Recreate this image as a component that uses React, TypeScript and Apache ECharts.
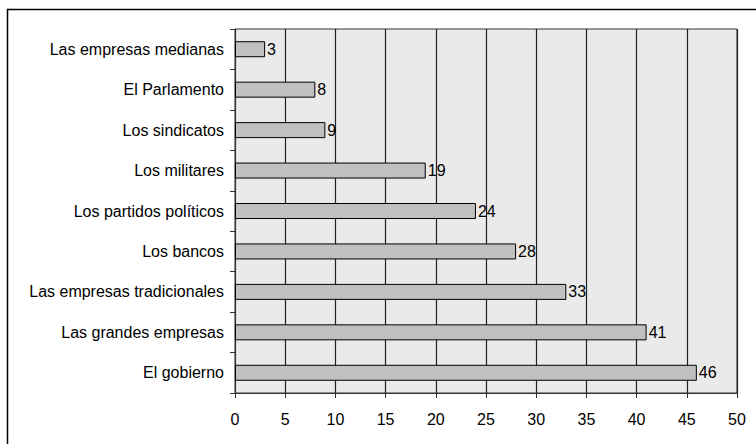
import React, { useEffect, useRef } from "react";
import * as echarts from "echarts";

const categories = [
  "Las empresas medianas",
  "El Parlamento",
  "Los sindicatos",
  "Los militares",
  "Los partidos políticos",
  "Los bancos",
  "Las empresas tradicionales",
  "Las grandes empresas",
  "El gobierno",
];
const values = [3, 8, 9, 19, 24, 28, 33, 41, 46];

const FONT = "'Liberation Sans', Arial, sans-serif";

export default function App() {
  const ref = useRef<HTMLDivElement>(null);
  useEffect(() => {
    const chart = echarts.init(ref.current!, null, { renderer: "svg" });
    chart.setOption({
      animation: false,
      backgroundColor: "#ffffff",
      textStyle: { fontFamily: FONT },
      graphic: [
        {
          type: "rect",
          shape: { x: 7.5, y: 9.5, width: 800, height: 500 },
          style: { fill: "none", stroke: "#000", lineWidth: 1.5 },
          silent: true,
        },
      ],
      grid: {
        left: 235,
        right: 19,
        top: 29,
        bottom: 51,
        show: true,
        backgroundColor: "#eaeaea",
        borderColor: "#333",
        borderWidth: 1,
      },
      xAxis: {
        type: "value",
        min: 0,
        max: 50,
        interval: 5,
        axisLine: { show: true, lineStyle: { color: "#333", width: 1 } },
        axisTick: { show: true, length: 5, lineStyle: { color: "#333" } },
        axisLabel: { color: "#000", fontSize: 16, fontFamily: FONT, margin: 18 },
        splitLine: { show: true, lineStyle: { color: "#222", width: 1.2 } },
      },
      yAxis: {
        type: "category",
        data: categories,
        inverse: true,
        axisLine: { show: true, lineStyle: { color: "#333", width: 1 } },
        axisTick: { show: true, length: 5, lineStyle: { color: "#333" } },
        axisLabel: { color: "#000", fontSize: 16, fontFamily: FONT, margin: 11 },
        splitLine: { show: false },
      },
      series: [
        {
          type: "bar",
          data: values,
          barWidth: 16,
          itemStyle: { color: "#c0c0c0", borderColor: "#000", borderWidth: 1 },
          label: {
            show: true,
            position: "right",
            distance: 2,
            color: "#000",
            fontSize: 16,
            fontFamily: FONT,
          },
        },
      ],
    });
    return () => chart.dispose();
  }, []);
  return (
    <div
      ref={ref}
      style={{ position: "absolute", left: 0, top: 0, width: 756, height: 444 }}
    />
  );
}
